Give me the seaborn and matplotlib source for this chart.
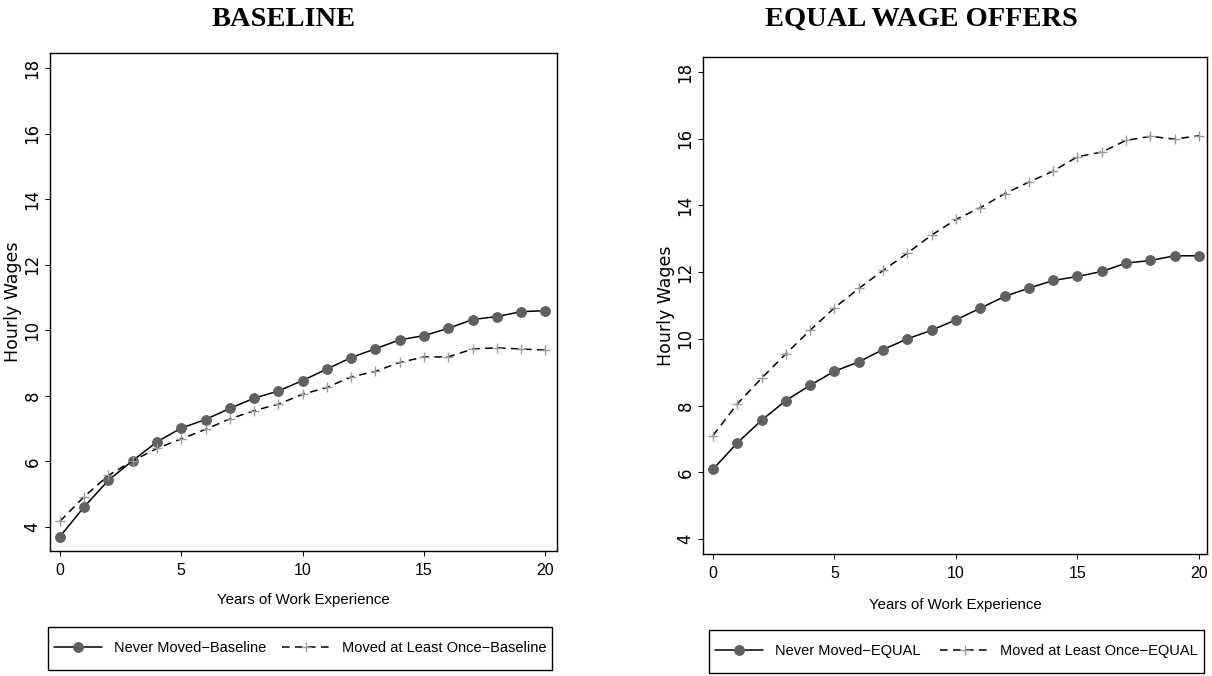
import matplotlib
matplotlib.use("Agg")
import matplotlib.pyplot as plt
from matplotlib.patches import Rectangle
import seaborn as sns

# ---- data -------------------------------------------------------------
years = list(range(21))

never_baseline = [3.71, 4.62, 5.43, 6.03, 6.60, 7.02, 7.28, 7.62, 7.93, 8.15,
                  8.47, 8.82, 9.17, 9.44, 9.71, 9.84, 10.06, 10.33, 10.42, 10.57, 10.60]
moved_baseline = [4.18, 4.93, 5.58, 6.02, 6.40, 6.69, 6.98, 7.30, 7.55, 7.75,
                  8.05, 8.26, 8.58, 8.75, 9.02, 9.19, 9.19, 9.43, 9.47, 9.43, 9.40]
never_equal = [6.09, 6.88, 7.56, 8.15, 8.61, 9.03, 9.31, 9.68, 10.00, 10.26,
               10.57, 10.92, 11.27, 11.52, 11.75, 11.87, 12.02, 12.27, 12.35, 12.49, 12.49]
moved_equal = [7.10, 8.05, 8.82, 9.55, 10.26, 10.93, 11.51, 12.05, 12.57, 13.11,
               13.58, 13.93, 14.35, 14.70, 15.03, 15.46, 15.60, 15.95, 16.07, 15.99, 16.09]

titles = ["BASELINE", "EQUAL WAGE OFFERS"]
series_labels = [
    ["Never Moved\u2212Baseline", "Moved at Least Once\u2212Baseline"],
    ["Never Moved\u2212EQUAL", "Moved at Least Once\u2212EQUAL"],
]
x_ticks = [0, 5, 10, 15, 20]
x_tick_labels = ["0", "5", "10", "15", "20"]
y_ticks = [4, 6, 8, 10, 12, 14, 16, 18]
y_tick_labels = ["4", "6", "8", "10", "12", "14", "16", "18"]
x_title = "Years of Work Experience"
y_title = "Hourly Wages"

# ---- style ------------------------------------------------------------
sns.set_theme(style="ticks")
plt.rcParams.update({
    "axes.edgecolor": "black",
    "axes.linewidth": 1.0,
    "xtick.color": "black",
    "ytick.color": "black",
    "text.color": "black",
    "axes.labelcolor": "black",
})
SANS = ["Liberation Sans", "DejaVu Sans"]
WIDE = ["DejaVu Sans"]
SERIF = ["Liberation Serif", "DejaVu Serif"]
plt.rcParams["font.family"] = SANS

DOT = "#606060"
PLUS = "#9a9a9a"

W, H = 1212, 676
fig = plt.figure(figsize=(W / 100, H / 100), dpi=100)
fig.patch.set_facecolor("white")


def frac_rect(x0, y0, x1, y1):
    """Pixel box (top-left origin) -> figure fraction [left, bottom, w, h]."""
    return [x0 / W, 1 - y1 / H, (x1 - x0) / W, (y1 - y0) / H]


panels = [
    dict(box=(50, 53, 557, 551), xlim=(-0.41, 20.48), ylim=(3.27, 18.46),
         never=never_baseline, moved=moved_baseline,
         title_xy=(284, 26), ylab_x=-0.072, xlab_y=-0.106,
         legend_box=(48, 627, 552, 670)),
    dict(box=(703, 57, 1207, 554), xlim=(-0.41, 20.33), ylim=(3.55, 18.45),
         never=never_equal, moved=moved_equal,
         title_xy=(921, 26), ylab_x=-0.074, xlab_y=-0.111,
         legend_box=(709, 630, 1204, 673)),
]

for i, p in enumerate(panels):
    ax = fig.add_axes(frac_rect(*p["box"]))
    ax.set_facecolor("white")

    sns.lineplot(x=years, y=p["never"], ax=ax, color="black", linewidth=1.1,
                 marker="o", markersize=7, markerfacecolor=DOT,
                 markeredgecolor=DOT, label=series_labels[i][0])
    sns.lineplot(x=years, y=p["moved"], ax=ax, color="black", linewidth=1.1,
                 linestyle=(0, (5, 3.5)), marker="+", markersize=7.5,
                 markeredgewidth=1.0, markeredgecolor=PLUS,
                 label=series_labels[i][1])

    handles, labels = ax.get_legend_handles_labels()
    if ax.get_legend() is not None:
        ax.get_legend().remove()

    ax.set_xlim(*p["xlim"])
    ax.set_ylim(*p["ylim"])
    ax.set_xticks(x_ticks, labels=x_tick_labels, fontfamily=SANS, fontsize=11.5)
    ax.set_yticks(y_ticks, labels=y_tick_labels, fontfamily=WIDE, fontsize=12,
                  rotation=90, va="center")
    ax.tick_params(direction="out", length=3.6, width=0.75, color="black")
    ax.tick_params(axis="x", pad=5.2)
    ax.tick_params(axis="y", pad=2.5)
    for s in ax.spines.values():
        s.set_visible(True)
        s.set_color("black")
        s.set_linewidth(1.0)
    ax.grid(False)

    ax.set_xlabel(x_title, fontfamily=SANS, fontsize=10.8, va="baseline")
    ax.xaxis.set_label_coords(0.5, p["xlab_y"])
    ax.set_ylabel(y_title, fontfamily=WIDE, fontsize=12.5, va="center")
    ax.yaxis.set_label_coords(p["ylab_x"], 0.5)

    tx, ty = p["title_xy"]
    fig.text(tx / W, 1 - ty / H, titles[i], ha="center", va="baseline",
             fontfamily=SERIF, fontweight="bold", fontsize=20.5)

    lx0, ly0, lx1, ly1 = p["legend_box"]
    fig.patches.append(Rectangle((lx0 / W, 1 - ly1 / H), (lx1 - lx0) / W,
                                 (ly1 - ly0) / H, transform=fig.transFigure,
                                 fill=False, edgecolor="black", linewidth=1.0))
    inset = 6
    fig.legend(handles, labels, ncol=2, mode="expand", loc="center",
               bbox_to_anchor=((lx0 + inset) / W, 1 - ly1 / H,
                               (lx1 - lx0 - 2 * inset) / W, (ly1 - ly0) / H),
               frameon=False, borderpad=0, borderaxespad=0,
               handlelength=3.3, handletextpad=0.8, columnspacing=0.5,
               prop={"family": SANS, "size": 10.5})

fig.savefig("out.png", dpi=100, facecolor="white")
